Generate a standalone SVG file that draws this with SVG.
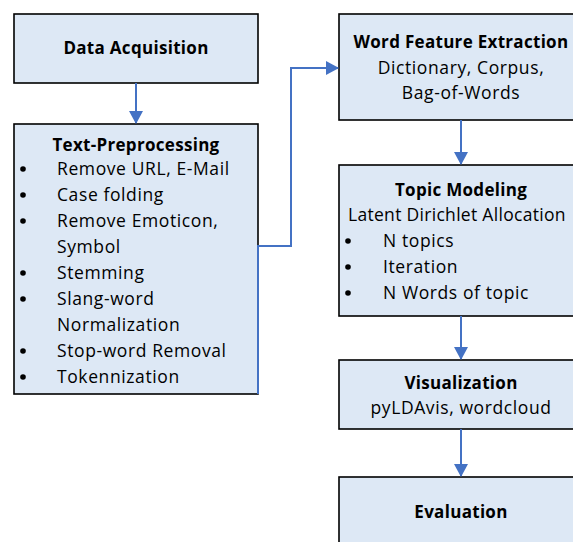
<svg xmlns="http://www.w3.org/2000/svg" width="573" height="542" viewBox="0 0 573 542">
<defs>
<marker id="ah" markerWidth="13" markerHeight="14" refX="12" refY="7" orient="auto" markerUnits="userSpaceOnUse">
<path d="M0,0 L13,7 L0,14 z" fill="#4472c4"/>
</marker>
<style>
.box{fill:#dde8f5;stroke:#000;stroke-width:1.6}
text{font-family:"Open Sans","Liberation Sans",sans-serif;font-size:17.5px;letter-spacing:0.6px;fill:#000}
.b{font-weight:bold;font-size:17px;letter-spacing:0.3px}
.c{text-anchor:middle}
.dot{fill:#000}
.con{fill:none;stroke:#4472c4;stroke-width:2}
</style>
</defs>
<rect width="573" height="542" fill="#fff"/>
<g id="data-acquisition">
<rect class="box" x="14" y="14" width="244" height="69"/>
<text class="b c" x="136" y="54">Data Acquisition</text>
</g>
<g id="text-preprocessing">
<rect class="box" x="14" y="124" width="244" height="270"/>
<text class="b c" x="136" y="151">Text-Preprocessing</text>
<g>
<circle class="dot" cx="23" cy="169" r="2.8"/><text x="57" y="175">Remove URL, E-Mail</text>
<circle class="dot" cx="23" cy="195" r="2.8"/><text x="57" y="201">Case folding</text>
<circle class="dot" cx="23" cy="221" r="2.8"/><text x="57" y="227">Remove Emoticon,</text>
<text x="57" y="253">Symbol</text>
<circle class="dot" cx="23" cy="273" r="2.8"/><text x="57" y="279">Stemming</text>
<circle class="dot" cx="23" cy="299" r="2.8"/><text x="57" y="305">Slang-word</text>
<text x="57" y="331">Normalization</text>
<circle class="dot" cx="23" cy="351" r="2.8"/><text x="57" y="357">Stop-word Removal</text>
<circle class="dot" cx="23" cy="377" r="2.8"/><text x="57" y="383">Tokennization</text>
</g>
</g>
<g id="word-feature-extraction">
<rect class="box" x="339" y="14" width="244" height="106"/>
<text class="b c" x="461" y="48">Word Feature Extraction</text>
<text class="c" x="461" y="74">Dictionary, Corpus,</text>
<text class="c" x="461" y="99">Bag-of-Words</text>
</g>
<g id="topic-modeling">
<rect class="box" x="339" y="165" width="244" height="151"/>
<text class="b c" x="461" y="196">Topic Modeling</text>
<text x="348" y="221" style="letter-spacing:0.3px">Latent Dirichlet Allocation</text>
<circle class="dot" cx="348" cy="241" r="2.8"/><text x="383" y="247">N topics</text>
<circle class="dot" cx="348" cy="267" r="2.8"/><text x="383" y="273">Iteration</text>
<circle class="dot" cx="348" cy="293" r="2.8"/><text x="383" y="299">N Words of topic</text>
</g>
<g id="visualization">
<rect class="box" x="339" y="360" width="244" height="69"/>
<text class="b c" x="461" y="389">Visualization</text>
<text class="c" x="461" y="414">pyLDAvis, wordcloud</text>
</g>
<g id="evaluation">
<rect class="box" x="339" y="477" width="244" height="80"/>
<text class="b c" x="461" y="518">Evaluation</text>
</g>
<g id="connectors">
<line class="con" x1="136" y1="83" x2="136" y2="123" marker-end="url(#ah)"/>
<path class="con" d="M258,394 V246 H291 V68 H338" marker-end="url(#ah)"/>
<line class="con" x1="461" y1="120" x2="461" y2="164" marker-end="url(#ah)"/>
<line class="con" x1="461" y1="316" x2="461" y2="359" marker-end="url(#ah)"/>
<line class="con" x1="461" y1="429" x2="461" y2="476" marker-end="url(#ah)"/>
</g>
</svg>
